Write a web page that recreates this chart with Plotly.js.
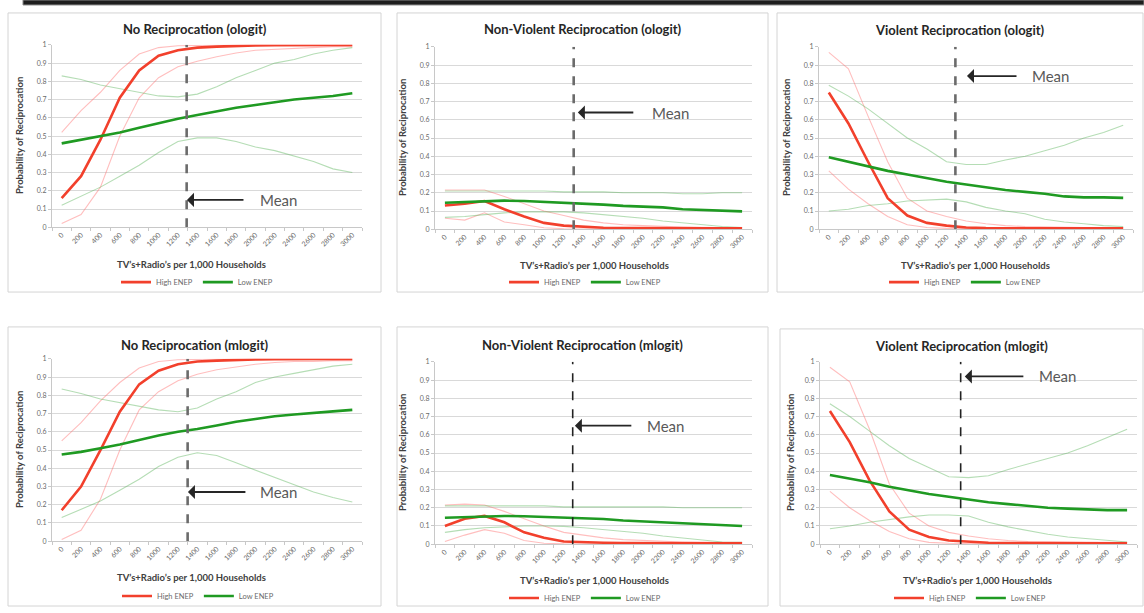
<!DOCTYPE html>
<html>
<head>
<meta charset="utf-8">
<script src="https://cdn.plot.ly/plotly-3.0.1.min.js"></script>
<style>html,body{margin:0;padding:0;background:#fff;}#chart{width:1144px;height:613px;}</style>
</head>
<body>
<div id="chart"></div>
<script>
// ---- shared axis categories ----
const tvRadio = [0,200,400,600,800,1000,1200,1400,1600,1800,2000,2200,2400,2600,2800,3000];
const tickLabels = ['0','200','400','600','800','1000','1200','1400','1600','1800','2000','2200','2400','2600','2800','3000'];
const yTickVals = [0,0.1,0.2,0.3,0.4,0.5,0.6,0.7,0.8,0.9,1];
const yTickText = ['0','0.1','0.2','0.3','0.4','0.5','0.6','0.7','0.8','0.9','1'];
const panelTitles = ['No Reciprocation (ologit)','Non-Violent Reciprocation (ologit)','Violent Reciprocation (ologit)',
                     'No Reciprocation (mlogit)','Non-Violent Reciprocation (mlogit)','Violent Reciprocation (mlogit)'];
const meanValues = [1290,1300,1290,1300,1290,1320];
const seriesNames = ['High ENEP','Low ENEP'];

// ---- Panel 1: No Reciprocation (ologit) ----
const p1HighMain  = [0.16,0.28,0.48,0.71,0.86,0.94,0.97,0.985,0.99,0.995,0.997,0.998,0.999,0.999,1.0,1.0];
const p1HighUpper = [0.52,0.64,0.74,0.86,0.95,0.985,0.995,0.998,0.999,1.0,1.0,1.0,1.0,1.0,1.0,1.0];
const p1HighLower = [0.02,0.07,0.22,0.50,0.71,0.82,0.88,0.91,0.935,0.955,0.97,0.975,0.98,0.985,0.99,0.99];
const p1LowMain   = [0.46,0.48,0.50,0.52,0.545,0.57,0.595,0.615,0.635,0.655,0.67,0.685,0.70,0.71,0.72,0.735];
const p1LowUpper  = [0.83,0.81,0.78,0.76,0.74,0.72,0.715,0.73,0.77,0.82,0.86,0.90,0.92,0.95,0.97,0.985];
const p1LowLower  = [0.12,0.17,0.22,0.28,0.34,0.41,0.47,0.49,0.49,0.47,0.44,0.42,0.39,0.36,0.32,0.30];

// ---- Panel 2: Non-Violent Reciprocation (ologit) ----
const p2HighMain  = [0.13,0.14,0.155,0.11,0.07,0.035,0.02,0.012,0.008,0.006,0.005,0.005,0.005,0.005,0.005,0.005];
const p2HighUpper = [0.215,0.215,0.215,0.18,0.14,0.10,0.075,0.05,0.035,0.025,0.02,0.015,0.012,0.01,0.01,0.01];
const p2HighLower = [0.06,0.05,0.09,0.04,0.025,0.008,0.003,0.001,0,0,0,0,0,0,0,0];
const p2LowMain   = [0.145,0.15,0.155,0.157,0.155,0.15,0.148,0.14,0.135,0.128,0.125,0.12,0.11,0.105,0.10,0.098];
const p2LowUpper  = [0.21,0.21,0.21,0.21,0.21,0.21,0.205,0.205,0.205,0.2,0.2,0.2,0.195,0.195,0.2,0.2];
const p2LowLower  = [0.065,0.07,0.08,0.09,0.095,0.095,0.095,0.09,0.08,0.07,0.06,0.045,0.035,0.025,0.015,0.01];

// ---- Panel 3: Violent Reciprocation (ologit) ----
const p3HighMain  = [0.75,0.58,0.37,0.17,0.075,0.035,0.02,0.01,0.006,0.005,0.005,0.005,0.005,0.005,0.005,0.005];
const p3HighUpper = [0.97,0.88,0.62,0.37,0.17,0.10,0.07,0.045,0.03,0.02,0.015,0.012,0.01,0.01,0.01,0.01];
const p3HighLower = [0.32,0.22,0.14,0.07,0.025,0.01,0.005,0.002,0,0,0,0,0,0,0,0];
const p3LowMain   = [0.395,0.37,0.345,0.32,0.30,0.28,0.26,0.245,0.23,0.215,0.205,0.195,0.18,0.175,0.175,0.172];
const p3LowUpper  = [0.79,0.73,0.66,0.58,0.50,0.44,0.37,0.355,0.355,0.38,0.40,0.43,0.46,0.50,0.53,0.57];
const p3LowLower  = [0.10,0.11,0.13,0.14,0.155,0.16,0.165,0.15,0.12,0.10,0.085,0.055,0.04,0.03,0.02,0.015];

// ---- Panel 4: No Reciprocation (mlogit) ----
const p4HighMain  = [0.17,0.30,0.50,0.71,0.86,0.935,0.97,0.985,0.99,0.995,0.997,0.998,0.999,0.999,1.0,1.0];
const p4HighUpper = [0.55,0.65,0.77,0.87,0.95,0.985,0.995,0.998,0.999,1.0,1.0,1.0,1.0,1.0,1.0,1.0];
const p4HighLower = [0.01,0.06,0.23,0.50,0.72,0.82,0.88,0.915,0.94,0.955,0.97,0.98,0.985,0.985,0.99,0.99];
const p4LowMain   = [0.475,0.49,0.51,0.53,0.555,0.58,0.60,0.615,0.635,0.655,0.67,0.685,0.695,0.705,0.712,0.72];
const p4LowUpper  = [0.835,0.81,0.78,0.76,0.74,0.72,0.71,0.73,0.78,0.82,0.87,0.90,0.92,0.94,0.96,0.97];
const p4LowLower  = [0.13,0.175,0.22,0.28,0.34,0.41,0.46,0.485,0.47,0.43,0.39,0.35,0.31,0.27,0.24,0.215];

// ---- Panel 5: Non-Violent Reciprocation (mlogit) ----
const p5HighMain  = [0.10,0.14,0.155,0.12,0.065,0.035,0.015,0.01,0.008,0.006,0.005,0.005,0.005,0.005,0.005,0.005];
const p5HighUpper = [0.215,0.22,0.215,0.18,0.14,0.10,0.065,0.05,0.035,0.025,0.02,0.015,0.012,0.01,0.01,0.01];
const p5HighLower = [0.015,0.05,0.08,0.06,0.02,0.005,0.002,0.001,0,0,0,0,0,0,0,0];
const p5LowMain   = [0.145,0.148,0.152,0.155,0.153,0.15,0.147,0.145,0.138,0.13,0.125,0.118,0.112,0.107,0.103,0.10];
const p5LowUpper  = [0.21,0.21,0.21,0.21,0.21,0.21,0.205,0.205,0.205,0.205,0.205,0.205,0.2,0.2,0.2,0.2];
const p5LowLower  = [0.065,0.08,0.09,0.095,0.10,0.10,0.098,0.09,0.08,0.07,0.06,0.045,0.035,0.025,0.012,0.01];

// ---- Panel 6: Violent Reciprocation (mlogit) ----
const p6HighMain  = [0.73,0.56,0.35,0.18,0.08,0.04,0.02,0.012,0.008,0.006,0.005,0.005,0.005,0.005,0.005,0.005];
const p6HighUpper = [0.97,0.89,0.63,0.33,0.17,0.10,0.065,0.045,0.03,0.02,0.015,0.012,0.01,0.01,0.01,0.01];
const p6HighLower = [0.29,0.20,0.13,0.07,0.03,0.01,0.005,0.002,0,0,0,0,0,0,0,0];
const p6LowMain   = [0.38,0.36,0.34,0.315,0.295,0.275,0.26,0.245,0.23,0.22,0.21,0.20,0.195,0.19,0.187,0.187];
const p6LowUpper  = [0.77,0.70,0.62,0.54,0.47,0.42,0.37,0.365,0.375,0.41,0.44,0.47,0.50,0.54,0.585,0.63];
const p6LowLower  = [0.085,0.10,0.12,0.135,0.15,0.16,0.16,0.155,0.12,0.095,0.075,0.055,0.04,0.03,0.02,0.012];

const panelData = [
  [p1HighMain,p1HighUpper,p1HighLower,p1LowMain,p1LowUpper,p1LowLower],
  [p2HighMain,p2HighUpper,p2HighLower,p2LowMain,p2LowUpper,p2LowLower],
  [p3HighMain,p3HighUpper,p3HighLower,p3LowMain,p3LowUpper,p3LowLower],
  [p4HighMain,p4HighUpper,p4HighLower,p4LowMain,p4LowUpper,p4LowLower],
  [p5HighMain,p5HighUpper,p5HighLower,p5LowMain,p5LowUpper,p5LowLower],
  [p6HighMain,p6HighUpper,p6HighLower,p6LowMain,p6LowUpper,p6LowLower]
];

// ---- layout geometry (pixels in a 1144x613 canvas) ----
const W = 1144, H = 613;
const geom = [
  {plot:[52,45,362,228],  box:[8,13,381,293],   titleY:29,  yTitleX:19,  xTitleX:191, xTitleY:265, legX:197, legY:283, mean:{y:0.15, head:1293, tail:1892, text:2028}, dash:{c:'#6b6b6b',w:2.6}},
  {plot:[435,47,752,230], box:[397,13,768,293], titleY:29,  yTitleX:402, xTitleX:594, xTitleY:266, legX:585, legY:283, mean:{y:0.64, head:1342, tail:1917, text:2069}, dash:{c:'#6b6b6b',w:2.6}},
  {plot:[819,47,1133,230],box:[777,13,1143,293],titleY:30,  yTitleX:786, xTitleX:975, xTitleY:266, legX:965, legY:283, mean:{y:0.84, head:1408, tail:1928, text:2051}, dash:{c:'#6b6b6b',w:2.6}},
  {plot:[52,360,362,543], box:[8,328,381,608],  titleY:346, yTitleX:19,  xTitleX:191, xTitleY:579, legX:198, legY:598, mean:{y:0.27, head:1303, tail:1912, text:2025}, dash:{c:'#6b6b6b',w:2.6}},
  {plot:[435,363,752,546],box:[397,328,768,608],titleY:346, yTitleX:402, xTitleX:594, xTitleY:582, legX:585, legY:600, mean:{y:0.65, head:1312, tail:1897, text:2018}, dash:{c:'#222',w:1.6}},
  {plot:[820,363,1137,546],box:[780,330,1143,608],titleY:347,yTitleX:790,xTitleX:977, xTitleY:582, legX:970, legY:600, mean:{y:0.92, head:1362, tail:1968, text:2089}, dash:{c:'#222',w:1.6}}
];
const px = v => v / W;
const py = v => 1 - v / H;

const RED = '#f2402c', RED_L = 'rgba(255,110,110,0.45)';
const GRN = '#1f9a22', GRN_L = 'rgba(90,180,90,0.45)';
const FONT = 'Lato, "Open Sans", "DejaVu Sans", sans-serif';

const traces = [];
const layout = {
  width: W, height: H, margin:{l:0,r:0,t:0,b:0},
  paper_bgcolor:'#fff', plot_bgcolor:'#fff',
  font:{family:FONT, color:'#595959'},
  annotations:[], shapes:[]
};

// top decorative bar
layout.shapes.push({type:'rect', xref:'paper', yref:'paper', x0:px(23), x1:1, y0:py(5), y1:py(0),
  fillcolor:'#1e1e1e', line:{color:'#888', width:1}});

geom.forEach((g, i) => {
  const n = i + 1;
  const sfx = n === 1 ? '' : String(n);
  const xa = 'x' + sfx, ya = 'y' + sfx;
  const legKey = 'legend' + sfx;
  const d = panelData[i];

  // CI lines (faint)
  [[d[1],RED_L],[d[2],RED_L],[d[4],GRN_L],[d[5],GRN_L]].forEach(([arr,c]) => {
    traces.push({x:tvRadio, y:arr, xaxis:xa, yaxis:ya, type:'scatter', mode:'lines',
      line:{color:c, width:1.1}, showlegend:false, hoverinfo:'skip'});
  });
  // main lines
  traces.push({x:tvRadio, y:d[0], xaxis:xa, yaxis:ya, type:'scatter', mode:'lines', name:seriesNames[0],
    line:{color:RED, width:2.6}, legend:legKey, showlegend:true});
  traces.push({x:tvRadio, y:d[3], xaxis:xa, yaxis:ya, type:'scatter', mode:'lines', name:seriesNames[1],
    line:{color:GRN, width:2.6}, legend:legKey, showlegend:true});

  const [l,t,r,b] = g.plot;
  layout['xaxis' + sfx] = {
    domain:[px(l), px(r)], anchor:ya, range:[-100,3100],
    tickvals:tvRadio, ticktext:tickLabels, tickangle:-45,
    tickfont:{size:7, color:'#6a6a6a', family:FONT},
    showgrid:false, zeroline:false, showline:true, linecolor:'#c8c8c8', linewidth:1,
    ticks:'', minor:{tick0:100, dtick:200, ticks:'outside', ticklen:3, tickcolor:'#c8c8c8', showgrid:false},
    fixedrange:true
  };
  layout['yaxis' + sfx] = {
    domain:[py(b), py(t)], anchor:xa, range:[0,1],
    tickvals:yTickVals, ticktext:yTickText,
    tickfont:{size:7, color:'#6a6a6a', family:FONT},
    showgrid:true, gridcolor:'#d9d9d9', gridwidth:1, zeroline:false,
    showline:true, linecolor:'#c8c8c8', linewidth:1, ticks:'outside', ticklen:3, tickcolor:'#c8c8c8',
    fixedrange:true
  };

  // legend for the panel
  layout[legKey] = {
    orientation:'h', x:px(g.legX), xanchor:'center', y:py(g.legY), yanchor:'middle',
    xref:'paper', yref:'paper',
    font:{size:7.5, color:'#6a6a6a', family:FONT}, bgcolor:'rgba(0,0,0,0)',
    itemwidth:30, tracegroupgap:0, itemclick:false, itemdoubleclick:false
  };

  // panel box
  const [bl,bt,br,bb] = g.box;
  layout.shapes.push({type:'rect', xref:'paper', yref:'paper', x0:px(bl), x1:px(br), y0:py(bb), y1:py(bt),
    line:{color:'#d4d4d4', width:1}, fillcolor:'rgba(0,0,0,0)', layer:'below'});

  // mean dashed line
  layout.shapes.push({type:'line', xref:xa, yref:ya, x0:meanValues[i], x1:meanValues[i], y0:0, y1:1,
    line:{color:g.dash.c, width:g.dash.w, dash:'dash'}});

  // panel title
  layout.annotations.push({xref:'paper', yref:'paper', x:px((bl + br) / 2), y:py(g.titleY), xanchor:'center', yanchor:'middle',
    text:'<b>' + panelTitles[i] + '</b>', showarrow:false, font:{size:13, color:'#262626', family:FONT}});
  // x axis title
  layout.annotations.push({xref:'paper', yref:'paper', x:px(g.xTitleX), y:py(g.xTitleY), xanchor:'center', yanchor:'middle',
    text:'<b>TV\u2019s+Radio\u2019s per 1,000 Households</b>', showarrow:false, font:{size:9.5, color:'#404040', family:FONT}});
  // y axis title
  layout.annotations.push({xref:'paper', yref:'paper', x:px(g.yTitleX), y:py((t + b) / 2), textangle:-90,
    xanchor:'center', yanchor:'middle',
    text:'<b>Probability of Reciprocation</b>', showarrow:false, font:{size:9.5, color:'#404040', family:FONT}});
  // mean arrow
  layout.annotations.push({xref:xa, yref:ya, x:g.mean.head, y:g.mean.y, axref:xa, ayref:ya, ax:g.mean.tail, ay:g.mean.y,
    text:'', showarrow:true, arrowhead:1, arrowsize:1.3, arrowwidth:1.8, arrowcolor:'#262626'});
  layout.annotations.push({xref:xa, yref:ya, x:g.mean.text, y:g.mean.y, xanchor:'left', yanchor:'middle',
    text:'Mean', showarrow:false, font:{size:15, color:'#595959', family:FONT}});
});

Plotly.newPlot('chart', traces, layout, {displayModeBar:false, staticPlot:true});
</script>
</body>
</html>
